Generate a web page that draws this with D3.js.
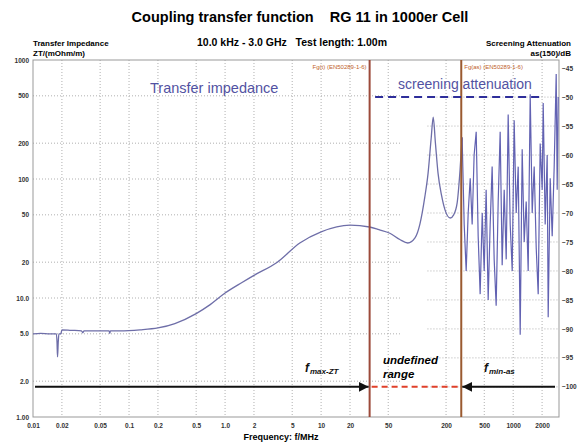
<!doctype html>
<html lang="en">
<head>
<meta charset="UTF-8" />
<script src="https://d3js.org/d3.v7.min.js"></script>
<title>Coupling transfer function</title>
<style>
  body { margin: 0; background: #fff; }
  text { font-family: "Liberation Sans", Arial, sans-serif; }
</style>
</head>
<body>
<div id="chart"></div>
<script>
// Transfer impedance (mOhm/m) vs frequency (MHz), up to Fg(as)
const ztFreq = [0.01, 0.012, 0.015, 0.0175, 0.0178, 0.018, 0.0183, 0.0186, 0.0195, 0.02, 0.025, 0.032, 0.033, 0.034,
  0.05, 0.062, 0.063, 0.064, 0.08, 0.13, 0.2, 0.3, 0.5, 0.7, 1.0, 1.5, 2.0, 3.5, 6.0, 10, 20, 32, 40, 52, 66, 80, 95,
  107, 120, 130, 140, 147, 155, 165, 180, 195, 221, 240, 261, 280, 294]
const ztValue = [5.0, 5.05, 5.0, 5.0, 4.2, 3.2, 4.2, 5.0, 5.0, 5.4, 5.35, 5.3, 5.1, 5.3,
  5.3, 5.3, 5.05, 5.3, 5.3, 5.4, 5.6, 6.1, 7.4, 8.8, 11, 13.5, 15.5, 20, 29, 36, 41, 39.5, 37.5, 35, 31, 29, 32,
  42, 70, 112, 220, 331, 200, 112, 72, 55, 47, 50, 63, 120, 225]

// Screening attenuation as(150) (dB) vs frequency (MHz), above Fg(as)
const asFreq = [294, 309, 324, 340, 357, 374, 392, 412, 432, 453, 476, 499, 523, 549, 576, 604, 634, 665, 698, 732,
  768, 806, 846, 887, 931, 977, 1024, 1075, 1128, 1183, 1241, 1302, 1366, 1433, 1504, 1578, 1655, 1737, 1822, 1911,
  2005, 2054, 2154, 2260, 2315, 2429, 2548, 2673, 2805, 2873, 2943]
const asValue = [-57, -72, -80, -70, -64, -72, -60, -56, -74, -84, -70, -80, -66, -85, -72, -62, -78, -86, -68, -56,
  -79, -66, -78, -53, -72, -80, -54, -70, -62, -91, -59, -75, -68, -80, -49.5, -70, -62, -76, -84, -58,
  -66, -51, -72, -60, -88, -64, -74, -62, -46, -66, -50]

const xTicks = [0.01, 0.02, 0.05, 0.1, 0.2, 0.5, 1, 2, 5, 10, 20, 50, 200, 500, 1000, 2000]
const xTickLabels = ["0.01", "0.02", "0.05", "0.1", "0.2", "0.5", "1.0", "2", "5", "10", "20", "50", "200", "500", "1000", "2000"]
const ztTicks = [1, 2, 5, 10, 20, 50, 100, 200, 500, 1000]
const ztTickLabels = ["1.00", "2.0", "5.0", "10.0", "20", "50", "100", "200", "500", "1000"]
const asTicks = [-45, -50, -55, -60, -65, -70, -75, -80, -85, -90, -95, -100]

const fgT = 32      // Fg(t) in MHz
const fgAs = 288    // Fg(as) in MHz

const W = 577, H = 444
const plot = { left: 33, top: 60, right: 559, bottom: 417 }

const svg = d3.select("#chart").append("svg")
  .attr("width", W)
  .attr("height", H)

const x = d3.scaleLog().domain([0.01, 3000]).range([plot.left, plot.right])
const yZ = d3.scaleLog().domain([1, 1000]).range([plot.bottom, plot.top])
const yA = d3.scaleLinear().domain([-43.6, -105.2]).range([plot.top, plot.bottom])

// Grid
const grid = svg.append("g")
  .attr("stroke", "#b0b0b0")
  .attr("stroke-width", 1)
  .attr("stroke-dasharray", "1,2")

grid.selectAll(".vgrid")
  .data(xTicks.slice(1))
  .join("line")
  .attr("x1", d => x(d)).attr("x2", d => x(d))
  .attr("y1", plot.top).attr("y2", plot.bottom)

grid.selectAll(".zgrid")
  .data(ztTicks.slice(1, -1))
  .join("line")
  .attr("x1", plot.left).attr("x2", x(67))
  .attr("y1", d => yZ(d)).attr("y2", d => yZ(d))

grid.selectAll(".agrid")
  .data(asTicks.slice(1))
  .join("line")
  .attr("x1", x(128)).attr("x2", plot.right)
  .attr("y1", d => yA(d)).attr("y2", d => yA(d))

// Border
svg.append("rect")
  .attr("x", plot.left).attr("y", plot.top)
  .attr("width", plot.right - plot.left)
  .attr("height", plot.bottom - plot.top)
  .attr("fill", "none")
  .attr("stroke", "#999")

// Axes
const tickFont = g => g.selectAll("text")
  .attr("font-size", 6.5)
  .attr("fill", "#333")
  .style("font-weight", "bold")

svg.append("g")
  .attr("transform", `translate(0,${plot.bottom})`)
  .call(d3.axisBottom(x).tickValues(xTicks).tickFormat((d, i) => xTickLabels[i]).tickSize(0).tickPadding(6))
  .call(g => g.select(".domain").remove())
  .call(tickFont)

svg.append("g")
  .attr("transform", `translate(${plot.left},0)`)
  .call(d3.axisLeft(yZ).tickValues(ztTicks).tickFormat((d, i) => ztTickLabels[i]).tickSize(0).tickPadding(4))
  .call(g => g.select(".domain").remove())
  .call(tickFont)

svg.append("g")
  .attr("transform", `translate(${plot.right},0)`)
  .call(d3.axisRight(yA).tickValues(asTicks).tickSize(0).tickPadding(3))
  .call(g => g.select(".domain").remove())
  .call(tickFont)

// Curves
const ztLine = d3.line().x((d, i) => x(ztFreq[i])).y(d => yZ(d)).curve(d3.curveMonotoneX)
svg.append("path")
  .attr("d", ztLine(ztValue))
  .attr("fill", "none")
  .attr("stroke", "#6e6ea8")
  .attr("stroke-width", 1.3)

const asLine = d3.line().x((d, i) => x(asFreq[i])).y(d => yA(d))
svg.append("path")
  .attr("d", asLine(asValue))
  .attr("fill", "none")
  .attr("stroke", "#6262b2")
  .attr("stroke-width", 1.2)

// Limit frequencies
svg.append("line")
  .attr("x1", x(fgT)).attr("x2", x(fgT))
  .attr("y1", plot.top).attr("y2", plot.bottom)
  .attr("stroke", "#9c4a3a").attr("stroke-width", 2)
svg.append("line")
  .attr("x1", x(fgAs)).attr("x2", x(fgAs))
  .attr("y1", plot.top).attr("y2", plot.bottom)
  .attr("stroke", "#9a5a30").attr("stroke-width", 2)

svg.append("text")
  .attr("x", x(fgT) - 3).attr("y", plot.top + 9)
  .attr("text-anchor", "end")
  .attr("font-size", 6).attr("fill", "#c0602a")
  .text("Fg(t) (EN50289-1-6)")
svg.append("text")
  .attr("x", x(fgAs) + 3).attr("y", plot.top + 9)
  .attr("font-size", 6).attr("fill", "#c0602a")
  .text("Fg(as) (EN50289-1-6)")

// Screening attenuation limit (dashed)
svg.append("line")
  .attr("x1", x(36.5)).attr("x2", x(2054))
  .attr("y1", yA(-50)).attr("y2", yA(-50))
  .attr("stroke", "#2e2e9a").attr("stroke-width", 2)
  .attr("stroke-dasharray", "8,5")

svg.append("text")
  .attr("x", 150).attr("y", 93)
  .attr("font-size", 14.5).attr("fill", "#5252a2")
  .text("Transfer impedance")
svg.append("text")
  .attr("x", 398).attr("y", 89)
  .attr("font-size", 14).attr("fill", "#5252a2")
  .text("screening attenuation")

// Arrows
const defs = svg.append("defs")
defs.append("marker")
  .attr("id", "arrow")
  .attr("viewBox", "0 0 10 10")
  .attr("refX", 10).attr("refY", 5)
  .attr("markerWidth", 5).attr("markerHeight", 5)
  .attr("orient", "auto-start-reverse")
  .append("path")
  .attr("d", "M0,0L10,5L0,10z")
  .attr("fill", "#111")

const arrowY = yA(-100)
svg.append("line")
  .attr("x1", plot.left + 2).attr("x2", x(fgT) - 1)
  .attr("y1", arrowY).attr("y2", arrowY)
  .attr("stroke", "#111").attr("stroke-width", 2)
  .attr("marker-end", "url(#arrow)")
svg.append("line")
  .attr("x1", plot.right - 4).attr("x2", x(fgAs) + 1)
  .attr("y1", arrowY).attr("y2", arrowY)
  .attr("stroke", "#111").attr("stroke-width", 2)
  .attr("marker-end", "url(#arrow)")
svg.append("line")
  .attr("x1", x(fgT) + 2).attr("x2", x(fgAs) - 2)
  .attr("y1", arrowY).attr("y2", arrowY)
  .attr("stroke", "#e0402a").attr("stroke-width", 2)
  .attr("stroke-dasharray", "6,4")

const annot = (tx, ty, main, sub) => {
  const t = svg.append("text")
    .attr("x", tx).attr("y", ty)
    .attr("font-size", 12).attr("font-weight", "bold").attr("font-style", "italic")
    .attr("fill", "#111")
  t.append("tspan").text(main)
  t.append("tspan").attr("font-size", 8).attr("dy", 2).attr("dx", 1).text(sub)
}
annot(305, 372, "f", "max-ZT")
annot(484, 372, "f", "min-as")

svg.append("text")
  .attr("x", 383).attr("y", 364)
  .attr("font-size", 11.5).attr("font-weight", "bold").attr("font-style", "italic")
  .text("undefined")
svg.append("text")
  .attr("x", 383).attr("y", 378)
  .attr("font-size", 11.5).attr("font-weight", "bold").attr("font-style", "italic")
  .text("range")

// Titles
svg.append("text")
  .attr("x", 300).attr("y", 22)
  .attr("text-anchor", "middle")
  .attr("font-size", 14.5).attr("font-weight", "bold")
  .attr("xml:space", "preserve")
  .text("Coupling transfer function    RG 11 in 1000er Cell")
svg.append("text")
  .attr("x", 292).attr("y", 46)
  .attr("text-anchor", "middle")
  .attr("font-size", 10.5).attr("font-weight", "bold")
  .attr("xml:space", "preserve")
  .text("10.0 kHz - 3.0 GHz   Test length: 1.00m")

svg.append("text")
  .attr("x", 33).attr("y", 46)
  .attr("font-size", 8).attr("font-weight", "bold")
  .text("Transfer Impedance")
svg.append("text")
  .attr("x", 33).attr("y", 56)
  .attr("font-size", 8).attr("font-weight", "bold")
  .text("ZT/(mOhm/m)")
svg.append("text")
  .attr("x", 571).attr("y", 46)
  .attr("text-anchor", "end")
  .attr("font-size", 8).attr("font-weight", "bold")
  .text("Screening Attenuation")
svg.append("text")
  .attr("x", 571).attr("y", 56)
  .attr("text-anchor", "end")
  .attr("font-size", 8).attr("font-weight", "bold")
  .text("as(150)/dB")

svg.append("text")
  .attr("x", 281).attr("y", 440)
  .attr("text-anchor", "middle")
  .attr("font-size", 9).attr("font-weight", "bold")
  .text("Frequency: f/MHz")
</script>
</body>
</html>
